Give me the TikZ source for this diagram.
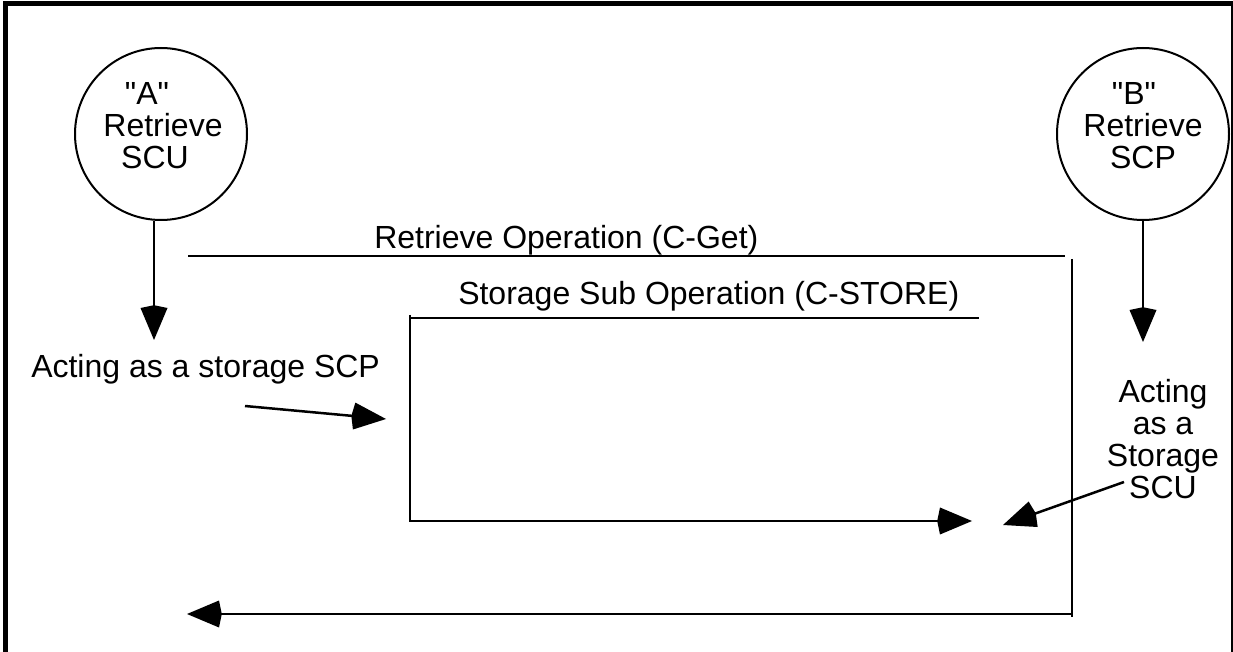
\documentclass[tikz,border=0pt]{standalone}
\usepackage{fontspec}
\setmainfont{Liberation Sans}
\usetikzlibrary{arrows.meta}

\begin{document}
\begin{tikzpicture}[x=0.5pt, y=-0.5pt, line width=1.25pt,
		>={Kite[length=17.4pt, width=13.5pt, inset=1.4pt]},
		role/.style={draw, circle, minimum size=86pt, inner sep=0pt, line width=1pt},
		lbl/.style={font=\fontsize{16}{16}\selectfont, inner sep=0pt, align=center}]
	\useasboundingbox (0,0) rectangle (1233,652);
	\clip (0,0) rectangle (1233,652);
	% frame, open at the bottom
	\draw [line width=2.5pt] (5.5,700) -- (5.5,4) -- (1233.5,4) -- (1233.5,700);

	% the two applications
	\node [role] (scu) at (161,134) {};
	\node [lbl] (scutxt) at (163,126) {\textquotedbl A\textquotedbl\hspace*{16pt}\\Retrieve\\SCU\hspace*{8pt}};
	\node [role] (scp) at (1143,134) {};
	\node [lbl] (scptxt) at (1143,126) {\textquotedbl B\textquotedbl\hspace*{9pt}\\Retrieve\\SCP};
	\coordinate (scutip) at (154,340);
	\coordinate (scptip) at (1143,342);
	\draw [->] (scu.south -| scutip) -- (scutip);
	\draw [->] (scp) -- (scptip);

	% C-Get
	\node [lbl, anchor=base west] (getlbl) at (373,249) {Retrieve Operation (C-Get)};
	\coordinate (getl) at (188,256);
	\coordinate (getr) at (1065,256);
	\coordinate (gettop) at (1072,259);
	\coordinate (getbot) at (1072,617);
	\coordinate (getend) at (187,614);
	\draw (getl) -- (getr);
	\draw (gettop) -- (getbot);
	\draw [->] (getbot |- getend) -- (getend);

	% C-STORE
	\node [lbl, anchor=base west] (storelbl) at (457,305) {Storage Sub Operation (C-STORE)};
	\coordinate (storel) at (410,318);
	\coordinate (storer) at (979,318);
	\coordinate (storeend) at (972,521);
	\draw (storel) -- (storer);
	\draw [->] (410,315) -- (storel |- storeend) -- (storeend);

	% roles in the sub operation
	\node [lbl, anchor=west] (asscp) at (30,369) {Acting as a storage SCP};
	\coordinate (asscpfrom) at (245,406);
	\coordinate (asscpto) at (386,419);
	\draw [->] (asscpfrom) -- (asscpto);
	\node [lbl] (asscu) at (1163,439) {Acting\\as a\\Storage\\SCU};
	\coordinate (asscufrom) at (1124,482);
	\coordinate (asscuto) at (1003,525);
	\draw [->] (asscufrom) -- (asscuto);
\end{tikzpicture}
\end{document}
